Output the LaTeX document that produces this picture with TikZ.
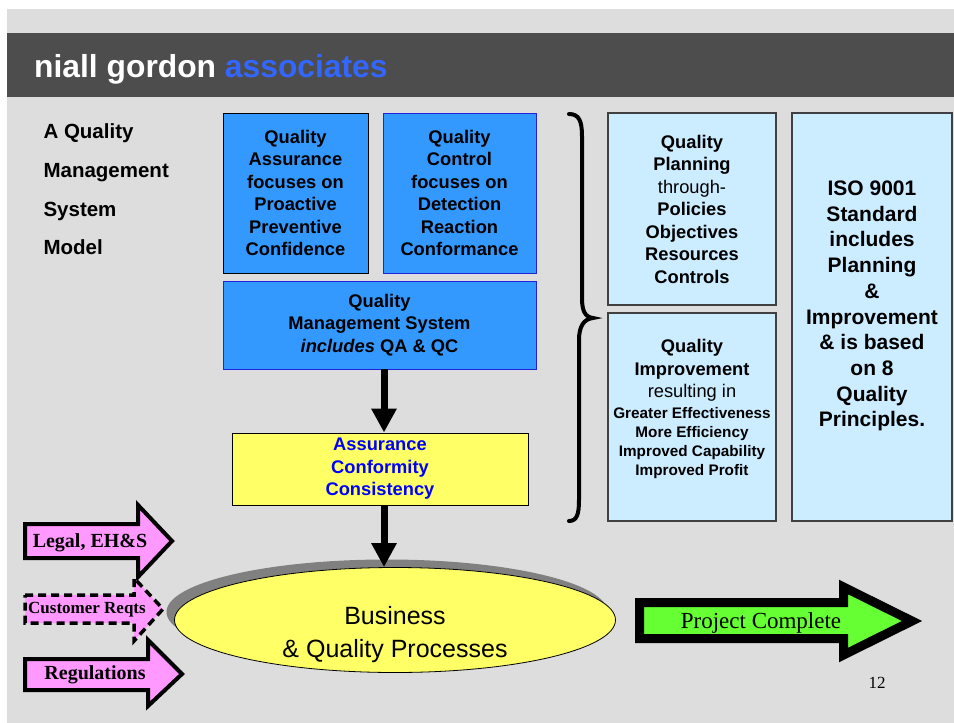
\documentclass[tikz,border=0pt]{standalone}
\usepackage{fontspec}
\setmainfont{Liberation Sans}
\newfontfamily\tnr{Liberation Serif}
\usetikzlibrary{arrows.meta,shapes.geometric,shadows}
\definecolor{bggrey}{HTML}{DDDDDD}
\definecolor{bardark}{HTML}{4D4D4D}
\definecolor{assocblue}{HTML}{3366FF}
\definecolor{qblue}{HTML}{3399FF}
\definecolor{qborder}{HTML}{2222DD}
\definecolor{lblue}{HTML}{CCECFF}
\definecolor{lyellow}{HTML}{FFFF66}
\definecolor{lpink}{HTML}{FF99FF}
\definecolor{lgreen}{HTML}{66FF33}
\definecolor{shgrey}{HTML}{808080}
\definecolor{txtblue}{HTML}{0000FF}
\begin{document}
\begin{tikzpicture}[x=1pt,y=-1pt,
  bodyfont/.style={font=\fontsize{18.3}{22.5}\selectfont\bfseries},
  bluebox/.style={draw=qborder, line width=0.9pt, fill=qblue, inner sep=0pt, align=center, bodyfont},
  ltbox/.style={draw=black!75, line width=1.2pt, fill=lblue, inner sep=0pt, align=center, bodyfont},
  headtext/.style={anchor=base west, font=\fontsize{20.5}{25}\selectfont\bfseries},
  bigarrow/.style={line width=7pt, -{Triangle[width=24pt,length=24pt]}},
  pinkarrow/.style={draw=black, line width=4pt, fill=lpink, miter limit=10},
  pinktext/.style={font=\tnr\fontsize{20}{24}\selectfont\bfseries},
]
% background
\fill[white] (0,0) rectangle (954,723);
\fill[bggrey] (7,9) rectangle (954,723);
\fill[bardark] (7,33) rectangle (954,97);
\node[anchor=base west, text=white, inner sep=0pt, font=\fontsize{31.8}{38}\selectfont\bfseries] (title) at (34,77) {niall gordon \textcolor{assocblue}{associates}};

% left heading
\node[headtext] (h1) at (40,138) {A Quality};
\node[headtext] (h2) at (40,177) {Management};
\node[headtext] (h3) at (40,216) {System};
\node[headtext] (h4) at (40,254) {Model};

% blue boxes
\node[bluebox, draw=black, minimum width=145pt, minimum height=160pt] (qa) at (295.5,193)
  {Quality\\Assurance\\focuses on\\Proactive\\Preventive\\Confidence};
\node[bluebox, minimum width=153pt, minimum height=160pt] (qc) at (459.5,193)
  {Quality\\Control\\focuses on\\Detection\\Reaction\\Conformance};
\node[bluebox, minimum width=313pt, minimum height=88pt] (qms) at (379.5,325)
  {Quality\\Management System\\\textit{includes} QA \& QC};

% yellow box
\node[draw=black, line width=0.9pt, fill=lyellow, inner sep=0pt, align=center, bodyfont, text=txtblue,
  minimum width=296pt, minimum height=72pt] (yel) at (380,469)
  {Assurance\\Conformity\\Consistency};

% process ellipse
\node[ellipse, draw=black, line width=0.8pt, fill=lyellow, inner sep=0pt,
  minimum width=441pt, minimum height=105pt,
  drop shadow={shadow xshift=-8pt, shadow yshift=8pt, fill=shgrey, opacity=1}] (proc) at (395,620) {};
\node[align=center, font=\fontsize{25}{33}\selectfont] (proctext) at ([yshift=-15pt]proc.center)
  {Business\\\& Quality Processes};

% connectors
\draw[bigarrow] ([xshift=4.5pt]qms.south) -- ([xshift=4pt]yel.north);
\draw[bigarrow] ([xshift=4pt]yel.south) -- ([xshift=-11pt]proc.north);

% brace
\draw[line width=4pt, line cap=round]
  (569,114) .. controls (579,114) and (582,121) .. (582,136)
  -- (582,298) .. controls (582,311) and (585,317) .. (593,318)
  .. controls (584,319) and (579,326) .. (579,340)
  -- (579,500) .. controls (579,514) and (577,521) .. (569,521);

% light blue boxes
\node[ltbox, minimum width=168pt, minimum height=192pt] (qp) at (692,209)
  {Quality\\Planning\\{\mdseries through-}\\Policies\\Objectives\\Resources\\Controls};
\node[ltbox, minimum width=168pt, minimum height=208pt] (qi) at (692,417) {};
\node[align=center, bodyfont] (qitop) at ([yshift=46.5pt]qi.center)
  {Quality\\Improvement\\{\mdseries resulting in}};
\node[align=center, font=\fontsize{15.3}{19.3}\selectfont\bfseries] (qibot) at ([yshift=-26pt]qi.center)
  {Greater Effectiveness\\More Efficiency\\Improved Capability\\Improved Profit};
\node[ltbox, minimum width=160pt, minimum height=408pt] (iso) at (872,317) {};
\node[align=center, font=\fontsize{21}{25.7}\selectfont\bfseries] (isotext) at ([yshift=11pt]iso.center)
  {ISO 9001\\Standard\\includes\\Planning\\\&\\Improvement\\\& is based\\on 8\\Quality\\Principles.};

% pink input arrows
\draw[pinkarrow] (25,524) -- (138,524) -- (138,505) -- (172,541) -- (138,577) -- (138,558) -- (25,558) -- cycle;
\node[pinktext] (legal) at (90,543) {Legal, EH\&S};
\draw[pinkarrow, line width=3.5pt, dash pattern=on 8pt off 5pt] (25,595) -- (134,595) -- (134,578) -- (163,609) -- (134,641) -- (134,623) -- (25,623) -- cycle;
\node[pinktext, font=\tnr\fontsize{17}{20}\selectfont\bfseries] (cust) at (87,610) {Customer Reqts};
\draw[pinkarrow] (25,659) -- (148,659) -- (148,640) -- (182,674) -- (148,706) -- (148,690) -- (25,690) -- cycle;
\node[pinktext] (regs) at (95,675) {Regulations};

% green output arrow
\draw[draw=black, line width=9pt, fill=lgreen] (639.5,602.5) -- (843.5,602.5) -- (843.5,587) -- (912,621) -- (843.5,655) -- (843.5,638.5) -- (639.5,638.5) -- cycle;
\node[font=\tnr\fontsize{23}{27}\selectfont] (proj) at (761,623) {Project Complete};

% page number
\node[font=\tnr\fontsize{17}{20}\selectfont] (pg) at (877,683) {12};
\end{tikzpicture}
\end{document}
